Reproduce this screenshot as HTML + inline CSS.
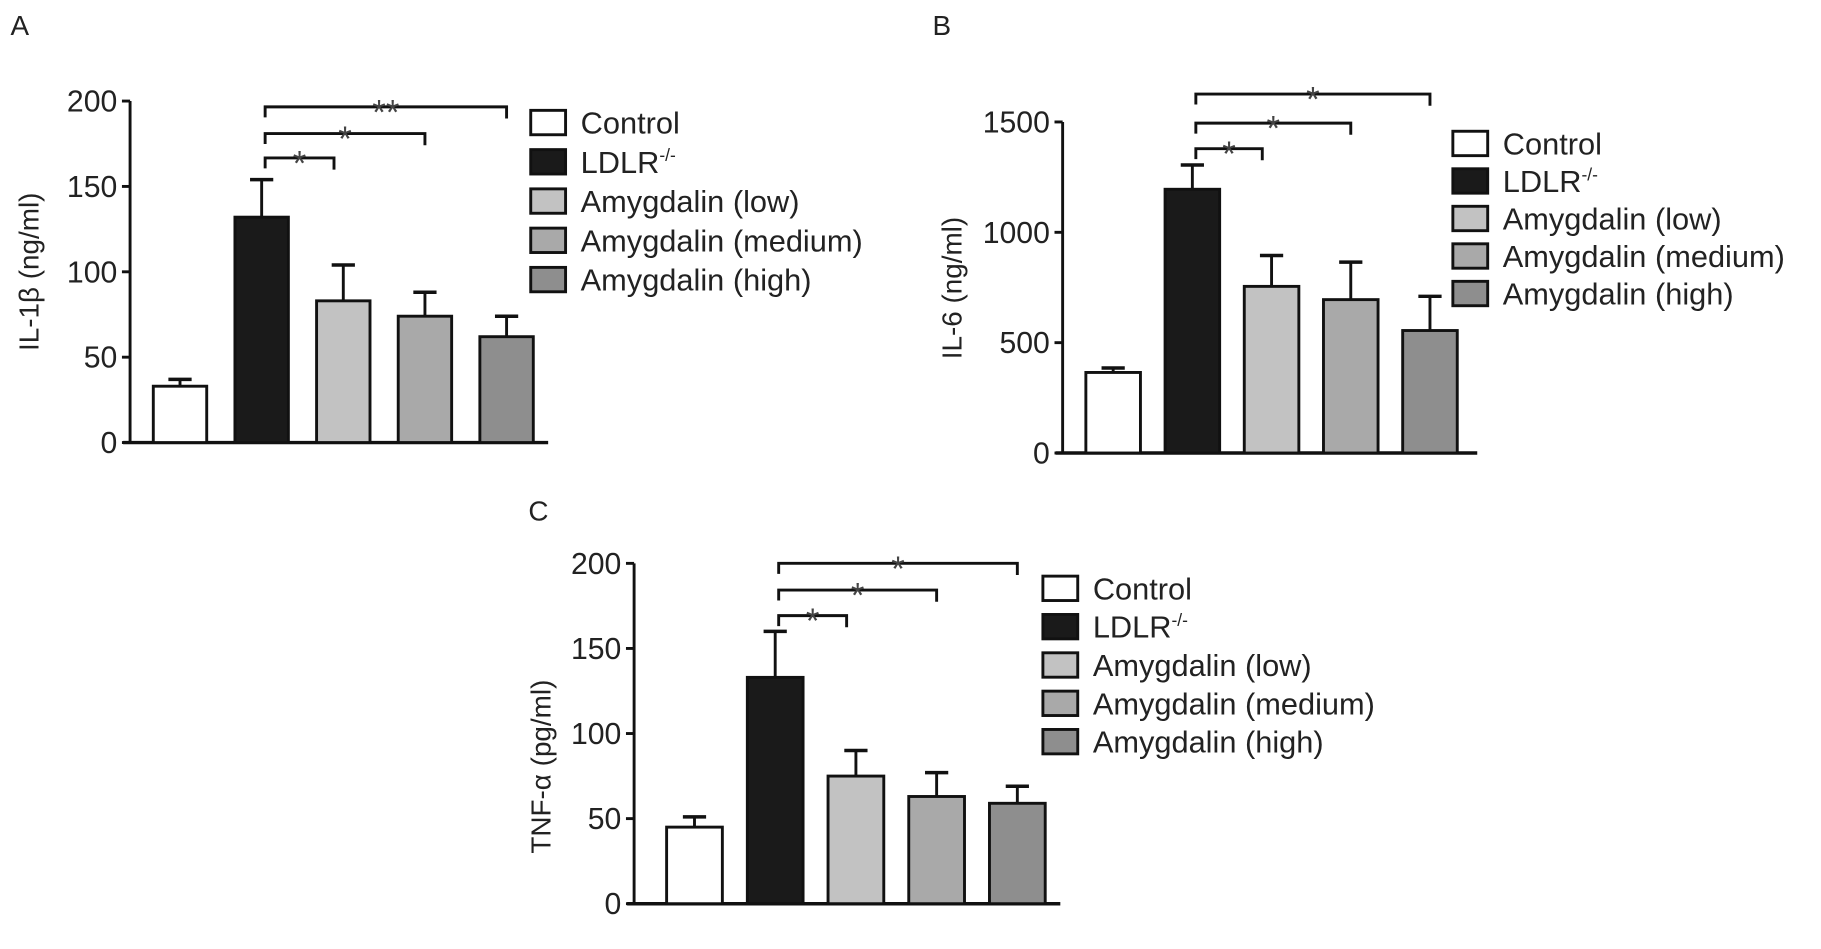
<!DOCTYPE html>
<html><head><meta charset="utf-8"><style>
html,body{margin:0;padding:0;background:#fff;}
svg{display:block;font-family:"Liberation Sans",sans-serif;}
</style></head><body>
<svg id="fig" width="1821" height="949" viewBox="0 0 1568 817" preserveAspectRatio="none" xmlns="http://www.w3.org/2000/svg"></svg>
<script>
const categories = ["Control", "LDLR-/-", "Amygdalin (low)", "Amygdalin (medium)", "Amygdalin (high)"];
const fills = ["#ffffff", "#1a1a1a", "#c2c2c2", "#a9a9a9", "#8e8e8e"];
const il1bValues = [33, 132, 83, 74, 62];
const il1bErrors = [4, 22, 21, 14, 12];
const il1bTicks = [0, 50, 100, 150, 200];
const il6Values = [365, 1195, 755, 695, 555];
const il6Errors = [20, 110, 140, 170, 155];
const il6Ticks = [0, 500, 1000, 1500];
const tnfValues = [45, 133, 75, 63, 59];
const tnfErrors = [6, 27, 15, 14, 10];
const tnfTicks = [0, 50, 100, 150, 200];
const il1bSig = ["*", "*", "**"];
const il6Sig = ["*", "*", "*"];
const tnfSig = ["*", "*", "*"];

const NS = "http://www.w3.org/2000/svg";
const svg = document.getElementById("fig");
function mk(tag, attrs, parent, text) {
  const e = document.createElementNS(NS, tag);
  for (const k in attrs) e.setAttribute(k, attrs[k]);
  if (text !== undefined) e.textContent = text;
  (parent || svg).appendChild(e);
  return e;
}

function panel(p) {
  const g = mk("g", {});
  
  
  const y = v => p.y0 - (v / p.max) * (p.y0 - p.yTop);
  const bx = i => p.bar0 + i * p.step;
  const lbl = mk("text", {x: p.letterX, y: p.letterY, "font-size": 24, fill: "#222"}, g, p.letter);
  
  
  const ya = mk("line", {x1: p.ax, y1: y(p.max), x2: p.ax, y2: p.y0, stroke: "#111", "stroke-width": 2.5}, g);
  
  
  const xa = mk("line", {x1: p.ax - 6, y1: p.y0, x2: p.xEnd, y2: p.y0, stroke: "#111", "stroke-width": 3}, g);
  
  
  p.ticks.forEach(t => {
    const tl = mk("line", {x1: p.ax - 7, y1: y(t), x2: p.ax, y2: y(t), stroke: "#111", "stroke-width": 2.5}, g);
    
    
    const tt = mk("text", {x: p.ax - 11, y: y(t) + 9, "font-size": 26, "text-anchor": "end", fill: "#222"}, g, String(t));
    
    
  });
  const ttl = mk("text", {x: 0, y: 0, "font-size": 24, "text-anchor": "middle", fill: "#222",
    transform: `translate(${p.titleX},${p.titleY}) rotate(-90)`}, g, p.title);
  
  
  p.values.forEach((v, i) => {
    const cx = bx(i) + p.bw / 2;
    const top = y(v + p.errors[i]);
    const el = mk("line", {x1: cx, y1: y(v), x2: cx, y2: top, stroke: "#111", "stroke-width": 2.5}, g);
    
    
    const cap = mk("line", {x1: cx - 10, y1: top, x2: cx + 10, y2: top, stroke: "#111", "stroke-width": 3}, g);
    
    
    const r = mk("rect", {x: bx(i), y: y(v), width: p.bw, height: p.y0 - y(v), fill: fills[i], stroke: "#111", "stroke-width": 2.5}, g);
    
    
  });
  p.brackets.forEach((b, k) => {
    const x1 = bx(1) + p.bw / 2 + 3, x2 = bx(b) + p.bw / 2 + (b === 2 ? -8 : 0);
    const yy = p.brY[k];
    const path = mk("path", {d: `M${x1},${yy + 9} L${x1},${yy} L${x2},${yy} L${x2},${yy + 10}`, fill: "none", stroke: "#111", "stroke-width": 2.5}, g);
    
    
    const st = mk("text", {x: (x1 + x2) / 2, y: yy + 15, "font-size": 30, "text-anchor": "middle", fill: "#444"}, g, p.sig[k]);
    
    
  });
  categories.forEach((c, i) => {
    const ly = p.legY + i * p.legStep;
    const lr = mk("rect", {x: p.legX, y: ly - 11, width: 30, height: 21, fill: fills[i], stroke: "#111", "stroke-width": 2.5}, g);
    
    
    const lt = mk("text", {x: p.legX + 43, y: ly + 9, "font-size": 26.5, fill: "#222"}, g);
    
    
    if (i === 1) {
      lt.textContent = "LDLR";
      mk("tspan", {"font-size": 15, dy: -10}, lt, "-/-");
    } else lt.textContent = c;
  });
}

panel({name: "panel-a-il1b", letter: "A", letterX: 9, letterY: 30, ax: 112, y0: 381, yTop: 87, max: 200,
  xEnd: 472, bar0: 132, step: 70.3, bw: 46, values: il1bValues, errors: il1bErrors, ticks: il1bTicks,
  title: "IL-1β (ng/ml)", titleX: 33, titleY: 234, brackets: [2, 3, 4], sig: il1bSig, brY: [136, 115, 92],
  legX: 457, legY: 106, legStep: 33.8});
panel({name: "panel-b-il6", letter: "B", letterX: 803, letterY: 30, ax: 915, y0: 390, yTop: 105, max: 1500,
  xEnd: 1272, bar0: 935, step: 68.2, bw: 47, values: il6Values, errors: il6Errors, ticks: il6Ticks,
  title: "IL-6 (ng/ml)", titleX: 828, titleY: 248, brackets: [2, 3, 4], sig: il6Sig, brY: [128, 106, 81],
  legX: 1251, legY: 124, legStep: 32.3});
panel({name: "panel-c-tnf", letter: "C", letterX: 455, letterY: 448, ax: 546, y0: 778, yTop: 485, max: 200,
  xEnd: 913, bar0: 574, step: 69.5, bw: 48, values: tnfValues, errors: tnfErrors, ticks: tnfTicks,
  title: "TNF-α (pg/ml)", titleX: 474, titleY: 660, brackets: [2, 3, 4], sig: tnfSig, brY: [530, 508, 485],
  legX: 898, legY: 507, legStep: 33});
</script>
</body></html>
